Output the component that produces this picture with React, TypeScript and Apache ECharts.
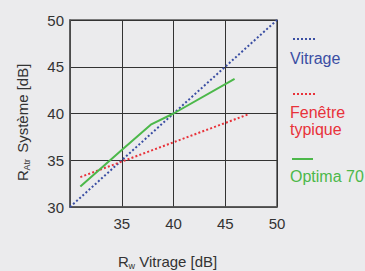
import React, { useEffect, useRef } from "react";
import * as echarts from "echarts";

const xTicks = [30, 35, 40, 45, 50];
const vitrage: [number, number][] = [[30, 30], [50, 50]];
const fenetre: [number, number][] = [[31, 33.2], [47.2, 39.9]];
const optima: [number, number][] = [[31, 32.2], [35, 36.1], [37.8, 38.8], [40, 40], [45.9, 43.7]];

const BLUE = "#3a4ea3";
const RED = "#e8323a";
const GREEN = "#4cb84a";
const FONT = "Liberation Sans";

export default function App() {
  const ref = useRef<HTMLDivElement>(null);
  useEffect(() => {
    if (!ref.current) return;
    const chart = echarts.init(ref.current, undefined, { renderer: "svg" });
    chart.setOption({
      animation: false,
      backgroundColor: "#ebebed",
      grid: { left: 70, right: 88, top: 20, bottom: 64, show: true, borderColor: "#555", borderWidth: 1.5, backgroundColor: "transparent" },
      xAxis: {
        type: "value", min: xTicks[0], max: xTicks[xTicks.length - 1], interval: 5,
        axisLine: { show: true, lineStyle: { color: "#555", width: 1.5 } },
        axisTick: { show: false },
        axisLabel: { color: "#333", fontSize: 15, fontFamily: FONT, margin: 9, formatter: (v: number) => (v === 30 ? "" : String(v)) },
        splitLine: { show: true, lineStyle: { color: "#333", width: 1 } },
      },
      yAxis: {
        type: "value", min: 30, max: 50, interval: 5,
        axisLine: { show: true, lineStyle: { color: "#555", width: 1.5 } },
        axisTick: { show: false },
        axisLabel: { color: "#333", fontSize: 15, fontFamily: FONT, margin: 6 },
        splitLine: { show: true, lineStyle: { color: "#333", width: 1 } },
      },
      series: [
        { name: "Vitrage", type: "line", data: vitrage, showSymbol: false, lineStyle: { color: BLUE, width: 2, type: [2, 2.2] }, z: 3 },
        { name: "Fenêtre typique", type: "line", data: fenetre, showSymbol: false, lineStyle: { color: RED, width: 2, type: [2, 2.2] }, z: 3 },
        { name: "Optima 70", type: "line", data: optima, showSymbol: false, lineStyle: { color: GREEN, width: 2 }, z: 4 },
      ],
      graphic: [
        { type: "line", shape: { x1: 293, y1: 39, x2: 317, y2: 39 }, style: { stroke: BLUE, lineWidth: 2, lineDash: [2, 2] } },
        { type: "text", x: 290, y: 58, style: { text: "Vitrage", fill: BLUE, fontSize: 16, fontFamily: FONT, textVerticalAlign: "middle" } },
        { type: "line", shape: { x1: 293, y1: 94, x2: 317, y2: 94 }, style: { stroke: RED, lineWidth: 2, lineDash: [2, 2] } },
        { type: "text", x: 290, y: 112, style: { text: "Fenêtre", fill: RED, fontSize: 16, fontFamily: FONT, textVerticalAlign: "middle" } },
        { type: "text", x: 290, y: 129, style: { text: "typique", fill: RED, fontSize: 16, fontFamily: FONT, textVerticalAlign: "middle" } },
        { type: "line", shape: { x1: 292, y1: 159, x2: 313, y2: 159 }, style: { stroke: GREEN, lineWidth: 2 } },
        { type: "text", x: 290, y: 176, style: { text: "Optima 70", fill: GREEN, fontSize: 16, fontFamily: FONT, textVerticalAlign: "middle" } },
        {
          type: "group", x: 22, y: 181, rotation: Math.PI / 2,
          children: [
            { type: "text", x: 0, y: 0, style: { text: "R", fill: "#333", fontSize: 15, fontFamily: FONT, textVerticalAlign: "middle" } },
            { type: "text", x: 10.5, y: 5, style: { text: "Atr", fill: "#333", fontSize: 9, fontFamily: FONT, textVerticalAlign: "middle" } },
            { type: "text", x: 24, y: 0, style: { text: " Système [dB]", fill: "#333", fontSize: 15, fontFamily: FONT, textVerticalAlign: "middle" } },
          ],
        },
        {
          type: "group", x: 118, y: 261,
          children: [
            { type: "text", x: 0, y: 0, style: { text: "R", fill: "#333", fontSize: 15, fontFamily: FONT, textVerticalAlign: "middle" } },
            { type: "text", x: 10.5, y: 4.5, style: { text: "w", fill: "#333", fontSize: 9, fontFamily: FONT, textVerticalAlign: "middle" } },
            { type: "text", x: 17, y: 0, style: { text: " Vitrage [dB]", fill: "#333", fontSize: 15, fontFamily: FONT, textVerticalAlign: "middle" } },
          ],
        },
      ],
    });
    return () => chart.dispose();
  }, []);
  return <div ref={ref} style={{ width: 365, height: 271, position: "absolute", left: 0, top: 0 }} />;
}
